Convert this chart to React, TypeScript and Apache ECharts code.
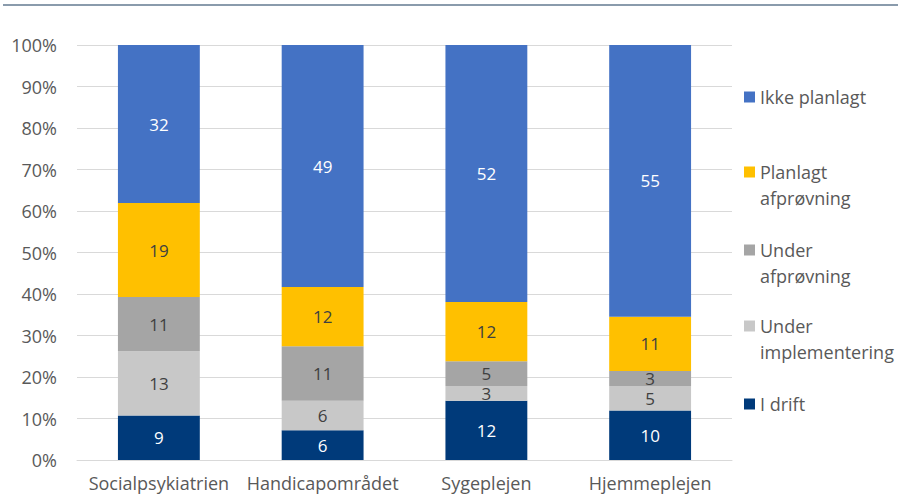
import React, { useEffect, useRef } from "react";
import * as echarts from "echarts";

const categories = ["Socialpsykiatrien", "Handicapområdet", "Sygeplejen", "Hjemmeplejen"];
const seriesNames = ["I drift", "Under implementering", "Under afprøvning", "Planlagt afprøvning", "Ikke planlagt"];
const iDrift = [9, 6, 12, 10];
const underImpl = [13, 6, 3, 5];
const underAfpr = [11, 11, 5, 3];
const planlagt = [19, 12, 12, 11];
const ikkePlanlagt = [32, 49, 52, 55];
const yTicks = [0, 10, 20, 30, 40, 50, 60, 70, 80, 90, 100];

const colors = ["#003A7A", "#C8C8C8", "#A5A5A5", "#FFC000", "#4472C4"];
const labelColors = ["#FFFFFF", "#404040", "#404040", "#404040", "#FFFFFF"];
const FONT = "Open Sans";

export default function App() {
  const ref = useRef<HTMLDivElement>(null);
  useEffect(() => {
    if (!ref.current) return;
    const chart = echarts.init(ref.current, undefined, { renderer: "svg" });
    const all = [iDrift, underImpl, underAfpr, planlagt, ikkePlanlagt];
    const totals = categories.map((_, i) => all.reduce((s, a) => s + a[i], 0));
    const legendNames = ["Ikke planlagt", "\nPlanlagt\nafprøvning", "\nUnder\nafprøvning", "\nUnder\nimplementering", "I drift"];
    const legendKeys = ["Ikke planlagt", "Planlagt afprøvning", "Under afprøvning", "Under implementering", "I drift"];
    const legendTops = [84, 133, 211, 287, 391];
    const series = all.map((arr, si) => ({
      name: seriesNames[si],
      type: "bar",
      stack: "total",
      barWidth: "50%",
      itemStyle: { color: colors[si] },
      data: arr.map((v, i) => (v / totals[i]) * 100),
      label: {
        show: true,
        position: "inside",
        color: labelColors[si],
        fontFamily: FONT,
        fontSize: 17,
        lineHeight: 14,
        formatter: (p: any) => String(arr[p.dataIndex]),
      },
    }));
    chart.setOption({
      animation: false,
      textStyle: { fontFamily: FONT },
      graphic: [
        {
          type: "line",
          shape: { x1: 3, y1: 5, x2: 898, y2: 5 },
          style: { stroke: "#8A9BAC", lineWidth: 2 },
        },
      ],
      grid: { left: 77, right: 166, top: 45, bottom: 35, containLabel: false },
      legend: legendKeys.map((k, i) => ({
        data: [k],
        orient: "vertical",
        left: 744,
        top: legendTops[i],
        padding: 0,
        itemWidth: 11,
        itemHeight: 11,
        itemGap: 0,
        icon: "rect",
        selectedMode: false,
        formatter: () => legendNames[i],
        textStyle: {
          fontFamily: FONT,
          fontSize: 18,
          color: "#595959",
          lineHeight: 26,
        },
      })),
      xAxis: {
        type: "category",
        data: categories,
        axisLine: { lineStyle: { color: "#D9D9D9", width: 1 } },
        axisTick: { show: false },
        axisLabel: { color: "#595959", fontSize: 18, lineHeight: 18, fontFamily: FONT, margin: 14, interval: 0 },
      },
      yAxis: {
        type: "value",
        min: 0,
        max: 100,
        interval: 10,
        axisLabel: {
          color: "#595959",
          fontSize: 18,
          fontFamily: FONT,
          margin: 20,
          formatter: (v: number) => (yTicks.includes(v) ? v + "%" : ""),
        },
        splitLine: { lineStyle: { color: "#D9D9D9", width: 1 } },
        axisLine: { show: false },
        axisTick: { show: false },
      },
      series,
    });
    return () => chart.dispose();
  }, []);
  return (
    <div
      ref={ref}
      style={{ position: "absolute", left: 0, top: 0, width: 898, height: 495, background: "#fff" }}
    />
  );
}
